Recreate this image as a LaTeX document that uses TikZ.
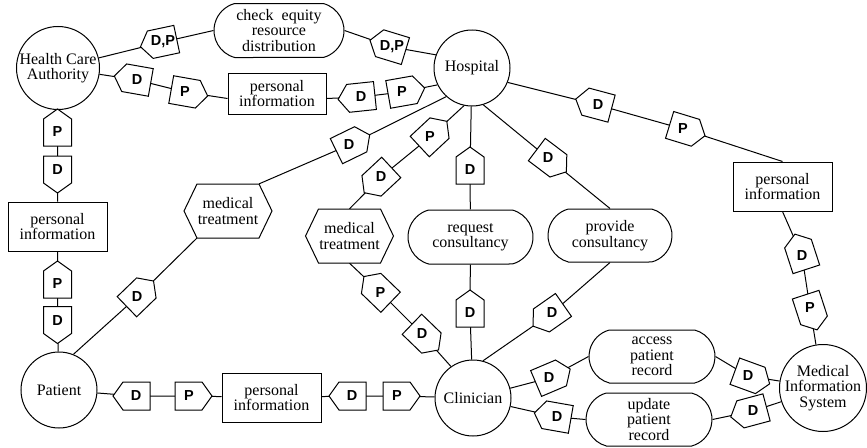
\documentclass[tikz,border=0pt]{standalone}
\usepackage{fontspec}
\setmainfont{Liberation Serif}
\newfontfamily\tagfont{Liberation Sans}
\usetikzlibrary{shapes.misc,calc}
\pgfdeclarelayer{bg}
\pgfsetlayers{bg,main}
\tikzset{
  lbl/.style={align=center, font=\fontsize{16}{15.5}\selectfont},
  base/.style={lbl, draw, line width=1pt, fill=white},
  actor/.style={base, circle, inner sep=-4pt, minimum size=76pt},
  infobox/.style={base, rectangle, inner sep=1pt, minimum width=99pt, minimum height=49pt},
  process/.style={base, rounded rectangle, rounded rectangle arc length=150, inner sep=1pt, minimum width=128pt, minimum height=53pt},
  hexbox/.style={lbl, rectangle, inner sep=0pt, minimum width=88pt, minimum height=54pt},
  shapeline/.style={draw, line width=1pt, fill=white, line join=miter},
  tagtext/.style={font=\tagfont\bfseries\fontsize{14.5}{14.5}\selectfont, inner sep=0pt},
  conn/.style={line width=1pt},
}
% tag: name, position, direction of the point, text
\newcommand\mytag[4]{%
  \path[shapeline, shift={(#2)}, rotate=#3] (-14,-14) -- (13,-14) -- (23,0) -- (13,14) -- (-14,14) -- cycle;
  \node[tagtext] (#1) at (#2) {#4};
}
% hexagon: name, position, text
\newcommand\hexnode[3]{%
  \path[shapeline, shift={(#2)}] (-44,0) -- (-31,-27) -- (31,-27) -- (44,0) -- (31,27) -- (-31,27) -- cycle;
  \node[hexbox] (#1) at (#2) {#3};
}
\begin{document}
\begin{tikzpicture}[x=1pt,y=-1pt]
\useasboundingbox (0,0) rectangle (867,447);

% main nodes
\node[actor, minimum size=83pt] (hca) at (58,68) {Health Care\\Authority};
\node[actor] (hosp) at (472,68) {Hospital};
\node[actor] (pat) at (59,390) {Patient};
\node[actor] (clin) at (473,398) {Clinician};
\node[actor, minimum size=87pt] (mis) at (823,388) {Medical\\Information\\System};

\node[process, minimum width=132pt, minimum height=54pt] (ce) at (279,30.5) {check\ \ equity\\resource\\distribution};
\node[infobox, minimum width=98pt, minimum height=41pt] (pit) at (277,93.5) {personal\\information};
\node[infobox] (pil) at (57.5,226.5) {personal\\information};
\node[infobox] (pib) at (271.5,397.5) {personal\\information};
\node[infobox] (pir) at (782.5,186.5) {personal\\information};
\hexnode{mt1}{228,211}{medical\\treatment}
\hexnode{mt2}{349.5,236}{medical\\treatment}
\node[process, minimum width=127pt, minimum height=54pt] (rc) at (470.5,237) {request\\consultancy};
\node[process, minimum width=126pt] (pc) at (610,235.5) {provide\\consultancy};
\node[process] (ar) at (652,356.5) {access\\patient\\record};
\node[process] (ur) at (649,419.5) {update\\patient\\record};

% tags
\mytag{t1}{163,42}{192}{D,P}
\mytag{t2}{392,47}{163}{D,P}
\mytag{t3}{137,80}{170}{D}
\mytag{t4}{185,92}{-10}{P}
\mytag{t5}{361,97}{186}{D}
\mytag{t6}{402,92}{10}{P}
\mytag{t7}{57.5,132}{90}{P}
\mytag{t8}{57.5,170}{270}{D}
\mytag{t9}{57.5,284}{90}{P}
\mytag{t10}{57.5,320.5}{270}{D}
\mytag{t11}{137,297}{44}{D}
\mytag{t12}{349,145}{26}{D}
\mytag{t13}{430,137}{43}{P}
\mytag{t14}{381,177}{223}{D}
\mytag{t15}{470,170}{90}{D}
\mytag{t16}{548,158}{-37}{D}
\mytag{t17}{598,105}{165}{D}
\mytag{t18}{683,129}{-17}{P}
\mytag{t19}{802,256}{108}{D}
\mytag{t20}{810,308}{-72}{P}
\mytag{t21}{380.5,292.5}{136}{P}
\mytag{t22}{422,334}{-44}{D}
\mytag{t23}{470,313}{90}{D}
\mytag{t24}{552,313}{215}{D}
\mytag{t25}{136,396}{180}{D}
\mytag{t26}{189,396}{0}{P}
\mytag{t27}{352,396}{180}{D}
\mytag{t28}{397,396}{0}{P}
\mytag{t29}{549,378}{23}{D}
\mytag{t30}{748,376}{-20}{D}
\mytag{t31}{557,417}{170}{D}
\mytag{t32}{753,411}{195}{D}

% connectors
\begin{pgfonlayer}{bg}
\draw[conn] (hca) -- (t1) -- (ce.west);
\draw[conn] (ce.east) -- (t2) -- (hosp.160);
\draw[conn] (hca) -- (t3) -- (t4) -- ([yshift=-5pt]pit.west);
\draw[conn] ([yshift=-5pt]pit.east) -- (t5) -- (t6) -- (hosp.206);
\draw[conn] (hca) -- (t7) -- (t8) -- (pil) -- (t9) -- (t10) -- (pat);
\draw[conn] (pat.68) -- (t11) -- ([xshift=13pt]mt1.south west);
\draw[conn] ([xshift=-13pt]mt1.north east) -- (t12) -- (hosp.228);
\draw[conn] (mt2.north) -- (t14) -- (t13) -- (hosp.258);
\draw[conn] (hosp) -- (t15) -- (rc);
\draw[conn] (rc) -- (t23) -- (clin);
\draw[conn] (hosp.287) -- (t16) -- (pc.north);
\draw[conn] (pc.south) -- (t24) -- (clin.75);
\draw[conn] (mt2.south) -- (t21) -- (t22) -- (clin.125);
\draw[conn] (hosp.338) -- (t17) -- (t18) -- (pir.north);
\draw[conn] (pir.south) -- (t19) -- (t20) -- (mis);
\draw[conn] (pat) -- (t25) -- (t26) -- (pib) -- (t27) -- (t28) -- (clin);
\draw[conn] (clin) -- (t29) -- (ar.west);
\draw[conn] (ar.east) -- (t30) -- (mis);
\draw[conn] (clin) -- (t31) -- (ur.west);
\draw[conn] (ur.east) -- (t32) -- (mis);
\end{pgfonlayer}
\end{tikzpicture}
\end{document}
